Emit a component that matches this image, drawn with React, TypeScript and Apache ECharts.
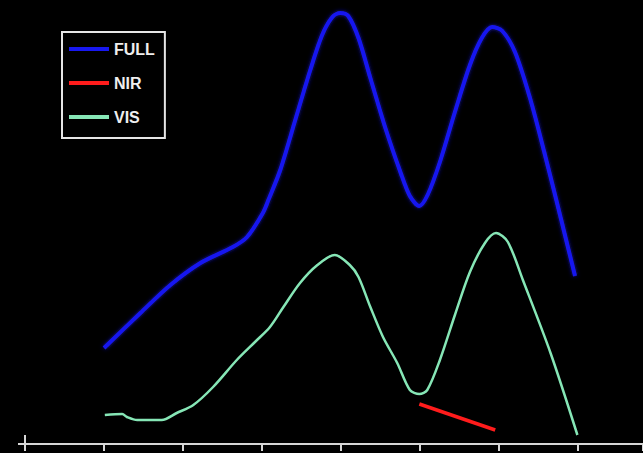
import React, { useEffect, useRef } from "react";
import * as echarts from "echarts";

// Series names
const seriesNames = ["FULL", "NIR", "VIS"];

// FULL (blue) curve
const fullX = [1.0, 1.46, 1.84, 2.22, 2.63, 2.81, 3.01, 3.08, 3.23, 3.42, 3.61, 3.76, 3.89, 3.99, 4.09, 4.22, 4.37, 4.56, 4.75, 4.87, 4.99, 5.1, 5.25, 5.44, 5.63, 5.78, 5.91, 6.04, 6.2, 6.39, 6.58, 6.77, 6.96];
const fullY = [24, 32.75, 39.75, 45.25, 49.25, 51.75, 57.75, 61, 68.5, 81, 93.5, 102.25, 106.75, 107.75, 107, 101.5, 91.5, 79, 68, 62, 59.5, 62.5, 70.5, 83, 94.75, 101.5, 104.25, 103.25, 98, 86.5, 72.25, 57.25, 42];

// NIR (red) segment
const nirX = [4.99, 5.95];
const nirY = [10, 3.5];

// VIS (green) curve
const visX = [1.01, 1.23, 1.29, 1.42, 1.73, 1.92, 2.13, 2.38, 2.68, 2.91, 3.1, 3.27, 3.48, 3.7, 3.92, 4.11, 4.22, 4.37, 4.53, 4.71, 4.87, 4.99, 5.09, 5.25, 5.44, 5.63, 5.82, 5.96, 6.11, 6.3, 6.65, 6.99];
const visY = [7.25, 7.5, 6.75, 6, 6, 7.75, 9.75, 14.25, 21, 25.5, 29.25, 34.25, 40.25, 44.75, 47.25, 44.75, 41.75, 34.25, 26.75, 20.25, 13.5, 12.5, 13.5, 21, 32.25, 43, 50.25, 52.75, 50.5, 41, 22.75, 2.25];

// Axis ranges
const xMin = 0;
const xMax = 7.82;
const xInterval = 1;
const yMin = 0;
const yMax = 111;

const zip = (xs: number[], ys: number[]) => xs.map((x, i) => [x, ys[i]]);

export default function App() {
  const ref = useRef<HTMLDivElement>(null);

  useEffect(() => {
    if (!ref.current) return;
    const chart = echarts.init(ref.current, undefined, { renderer: "svg" });
    const axisColor = "#d6d6d6";
    chart.setOption({
      animation: false,
      backgroundColor: "#000000",
      legend: {
        orient: "vertical",
        left: 62,
        top: 32,
        data: seriesNames,
        icon: "rect",
        itemWidth: 40,
        itemHeight: 4,
        itemGap: 16,
        padding: [8, 10, 12, 7],
        borderColor: "#e6e6e6",
        borderWidth: 2,
        textStyle: {
          color: "#eeeeee",
          fontFamily: "Liberation Sans, Arial, sans-serif",
          fontSize: 16,
          fontWeight: "bold",
          lineHeight: 18,
        },
      },
      grid: { left: 25, top: 0, right: 0, height: 444 },
      xAxis: {
        type: "value",
        min: xMin,
        max: xMax,
        interval: xInterval,
        axisLine: { show: true, lineStyle: { color: axisColor, width: 2 } },
        axisTick: { show: true, length: 7, lineStyle: { color: axisColor, width: 2 } },
        axisLabel: { show: false },
        splitLine: { show: false },
      },
      yAxis: {
        type: "value",
        min: yMin,
        max: yMax,
        show: false,
        splitLine: { show: false },
      },
      graphic: [
        { type: "line", shape: { x1: 18, y1: 444, x2: 25, y2: 444 }, style: { stroke: axisColor, lineWidth: 2 } },
        { type: "line", shape: { x1: 25, y1: 435, x2: 25, y2: 444 }, style: { stroke: axisColor, lineWidth: 2 } },
      ],
      series: [
        {
          name: "FULL",
          type: "line",
          data: zip(fullX, fullY),
          smooth: 0.3,
          showSymbol: false,
          lineStyle: { color: "#1818f0", width: 4, shadowBlur: 4, shadowColor: "rgba(30,30,255,0.6)" },
          itemStyle: { color: "#1818f0" },
          z: 3,
        },
        {
          name: "NIR",
          type: "line",
          data: zip(nirX, nirY),
          showSymbol: false,
          lineStyle: { color: "#ff1c1c", width: 3.5 },
          itemStyle: { color: "#ff1c1c" },
          z: 2,
        },
        {
          name: "VIS",
          type: "line",
          data: zip(visX, visY),
          smooth: 0.3,
          showSymbol: false,
          lineStyle: { color: "#86e6b6", width: 2.5 },
          itemStyle: { color: "#86e6b6" },
          z: 2,
        },
      ],
    });
    return () => chart.dispose();
  }, []);

  return (
    <div
      ref={ref}
      style={{ position: "fixed", left: 0, top: 0, width: 643, height: 453, background: "#000" }}
    />
  );
}
